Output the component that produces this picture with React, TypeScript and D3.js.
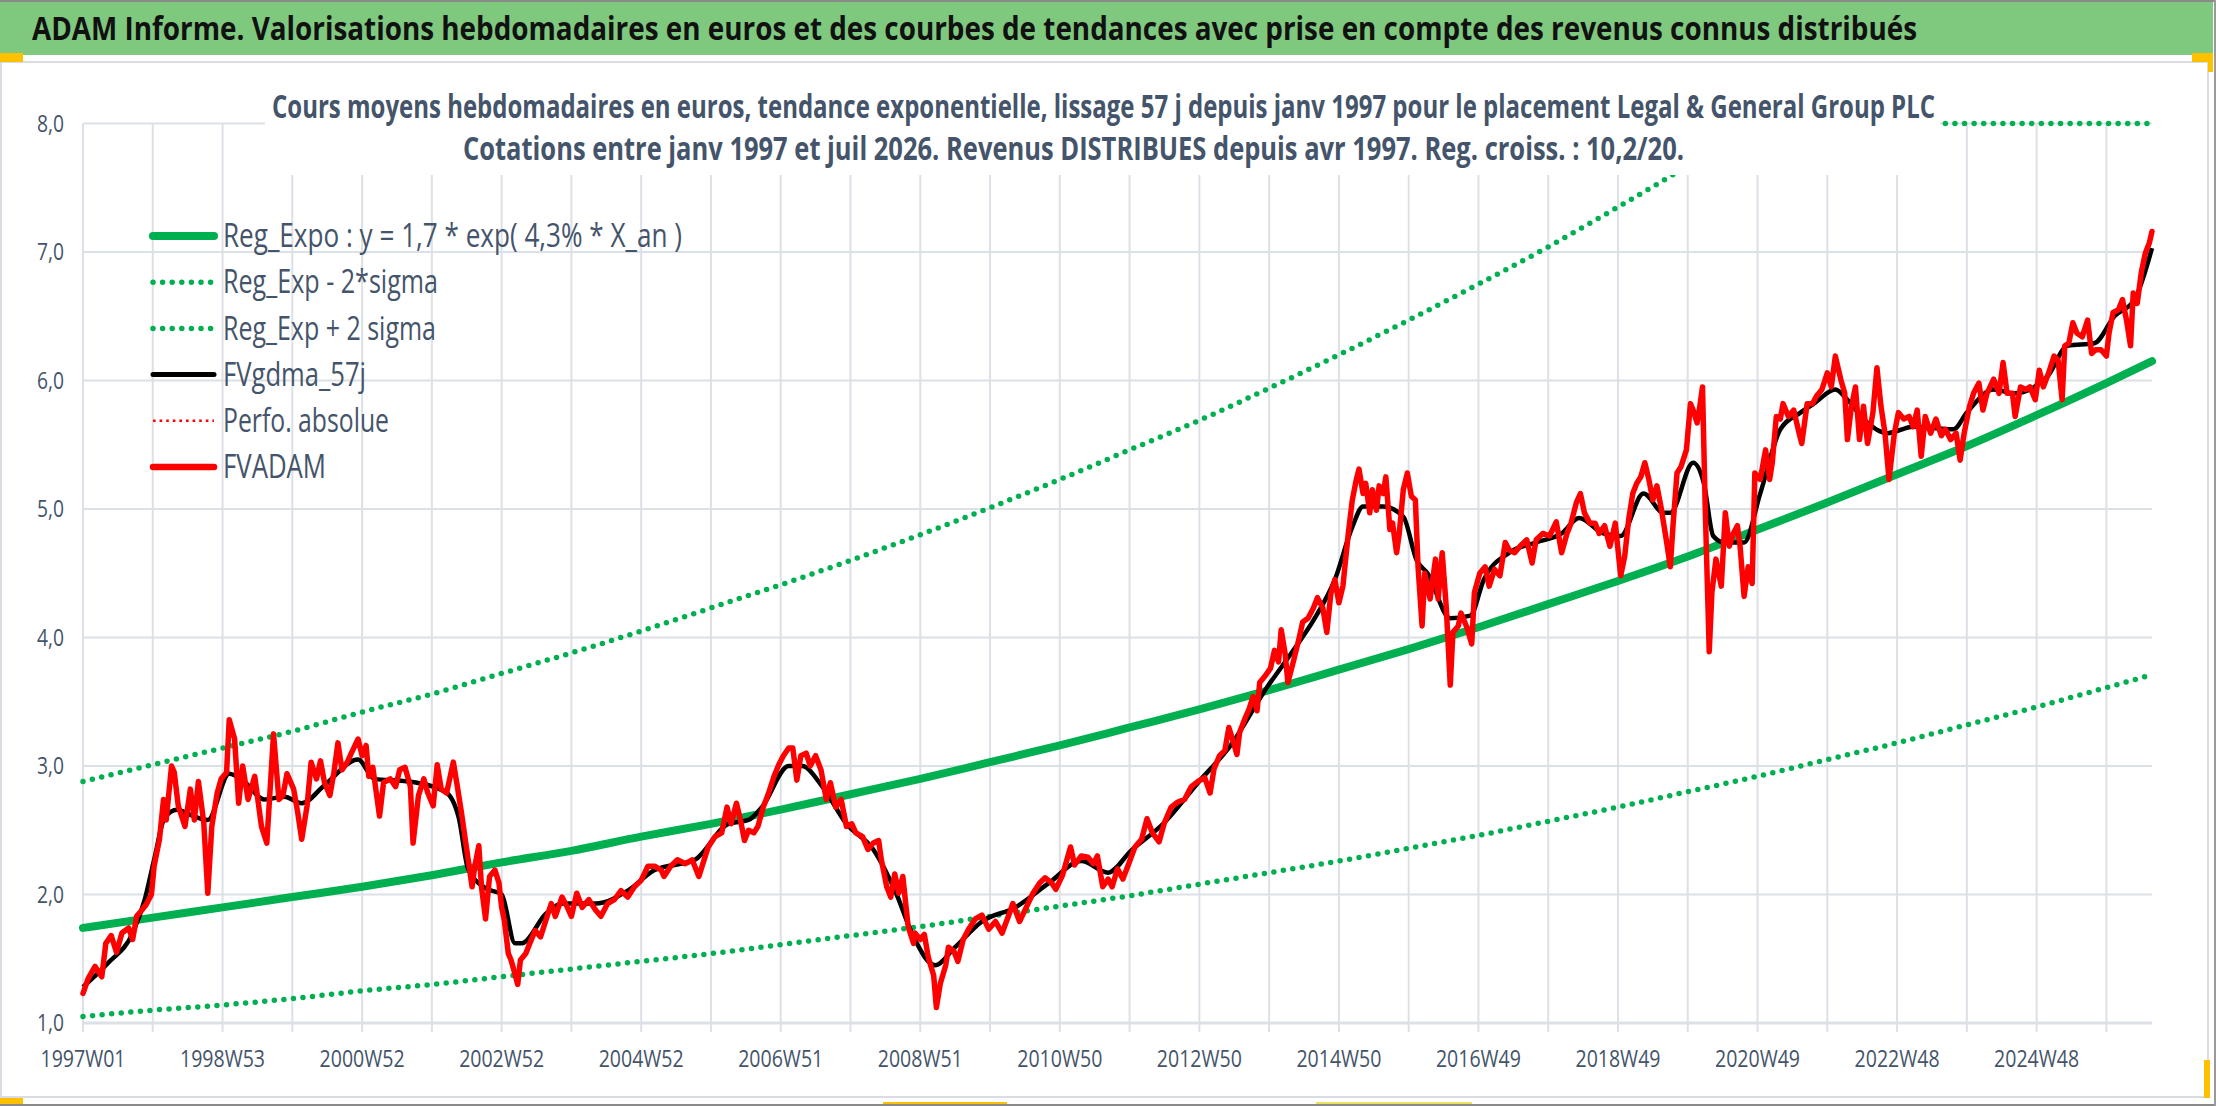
import React, { useEffect, useRef } from 'react';
import * as d3 from 'd3';

// Category axis: weekly quotes, index 0 = 1997W01, last = 1542
const lastWeek = 1542;
const labelStep = 104;
const gridStep = 52;
const weekLabels = [
  '1997W01', '1998W53', '2000W52', '2002W52', '2004W52', '2006W51', '2008W51', '2010W50',
  '2012W50', '2014W50', '2016W49', '2018W49', '2020W49', '2022W48', '2024W48'
];
const yTicks = [1, 2, 3, 4, 5, 6, 7, 8];

// Trend curves read at each year boundary (week index)
const regWeeks = [0, 52, 104, 156, 208, 260, 312, 364, 416, 468, 520, 572, 624, 676, 728, 780, 832, 884, 936, 988,
  1040, 1092, 1144, 1196, 1248, 1300, 1352, 1404, 1456, 1508, 1542];
const regExpo = [1.74, 1.82, 1.90, 1.98, 2.06, 2.15, 2.25, 2.34, 2.45, 2.55, 2.66, 2.78, 2.90, 3.03, 3.16, 3.30,
  3.44, 3.59, 3.75, 3.91, 4.08, 4.26, 4.44, 4.63, 4.84, 5.05, 5.27, 5.49, 5.73, 5.98, 6.15];
const regLow = [1.05, 1.10, 1.14, 1.19, 1.25, 1.30, 1.36, 1.42, 1.48, 1.54, 1.61, 1.68, 1.75, 1.83, 1.91, 1.99,
  2.08, 2.17, 2.26, 2.36, 2.46, 2.57, 2.68, 2.80, 2.92, 3.05, 3.18, 3.32, 3.46, 3.61, 3.71];
const regHigh = [2.88, 3.01, 3.14, 3.27, 3.42, 3.56, 3.72, 3.88, 4.05, 4.23, 4.41, 4.60, 4.80, 5.01, 5.23, 5.46,
  5.69, 5.94, 6.20, 6.47, 6.75, 7.04, 7.35, 7.67, 8.0, 8.0, 8.0, 8.0, 8.0, 8.0, 8.0];

// FVgdma_57j (smoothed), [week, value]
const fvgdma: [number, number][] = [
  [0, 1.28], [19, 1.47], [37, 1.70], [46, 1.96], [53, 2.27], [61, 2.60], [70, 2.66], [80, 2.62], [93, 2.58],
  [109, 2.94], [120, 2.88], [135, 2.74], [150, 2.76], [163, 2.71], [180, 2.85], [205, 3.05], [217, 2.90],
  [242, 2.88], [270, 2.80], [280, 2.60], [287, 2.20], [300, 2.05], [312, 2.00], [322, 1.62], [327, 1.62],
  [345, 1.85], [357, 1.93], [382, 1.93], [406, 2.03], [426, 2.19], [456, 2.27], [481, 2.55], [496, 2.58],
  [506, 2.68], [526, 3.00], [536, 3.00], [551, 2.84], [569, 2.55], [589, 2.35], [606, 2.01], [619, 1.67],
  [635, 1.45], [650, 1.59], [670, 1.79], [695, 1.90], [720, 2.09], [744, 2.26], [764, 2.17], [781, 2.34],
  [806, 2.56], [831, 2.87], [856, 3.17], [881, 3.59], [900, 3.87], [918, 4.15], [933, 4.45], [946, 4.86],
  [954, 5.02], [969, 5.02], [984, 4.94], [994, 4.60], [1002, 4.50], [1019, 4.15], [1034, 4.17], [1044, 4.45],
  [1063, 4.66], [1083, 4.74], [1102, 4.81], [1115, 4.93], [1133, 4.81], [1146, 4.79], [1163, 5.12],
  [1178, 4.97], [1183, 4.97], [1200, 5.36], [1208, 5.20], [1215, 4.79], [1223, 4.74], [1238, 4.74],
  [1250, 5.12], [1265, 5.62], [1280, 5.75], [1290, 5.82], [1306, 5.93], [1315, 5.85], [1327, 5.70],
  [1345, 5.59], [1364, 5.64], [1394, 5.62], [1404, 5.75], [1424, 5.93], [1439, 5.90], [1464, 6.03],
  [1479, 6.27], [1499, 6.29], [1514, 6.50], [1529, 6.63], [1542, 7.03]
];

// FVADAM weekly valuation, [week, value]
const fvadam: [number, number][] = [
  [0, 1.23], [4, 1.35], [9, 1.44], [14, 1.36], [17, 1.62], [21, 1.68], [25, 1.55], [29, 1.70], [34, 1.74],
  [37, 1.65], [40, 1.83], [44, 1.88], [47, 1.92], [51, 2.00], [53, 2.22], [57, 2.43], [60, 2.74], [62, 2.58],
  [66, 3.00], [68, 2.95], [71, 2.69], [76, 2.53], [80, 2.82], [83, 2.58], [86, 2.88], [90, 2.56], [93, 2.01],
  [96, 2.53], [100, 2.79], [103, 2.90], [107, 2.95], [109, 3.36], [113, 3.21], [116, 2.71], [119, 3.00],
  [123, 2.74], [128, 2.92], [133, 2.53], [137, 2.40], [142, 3.25], [146, 2.74], [149, 2.77], [152, 2.94],
  [157, 2.82], [160, 2.64], [163, 2.43], [167, 2.69], [170, 3.03], [174, 2.90], [177, 3.04], [180, 2.87],
  [184, 2.77], [187, 2.95], [190, 3.18], [193, 2.97], [197, 3.03], [200, 3.10], [205, 3.21], [208, 3.08],
  [211, 3.16], [213, 2.92], [216, 2.99], [221, 2.61], [224, 2.87], [229, 2.90], [233, 2.84], [236, 2.97],
  [240, 2.99], [244, 2.84], [246, 2.40], [250, 2.77], [254, 2.90], [257, 2.79], [261, 2.69], [264, 3.01],
  [267, 2.82], [271, 2.79], [276, 3.03], [279, 2.84], [282, 2.64], [286, 2.35], [290, 2.06], [292, 2.22],
  [295, 2.38], [297, 2.06], [300, 1.81], [303, 2.14], [307, 2.19], [310, 2.09], [312, 1.90], [314, 1.80],
  [317, 1.54], [319, 1.49], [322, 1.38], [324, 1.30], [326, 1.49], [330, 1.54], [333, 1.62], [337, 1.72],
  [341, 1.67], [345, 1.80], [349, 1.93], [352, 1.83], [357, 1.98], [361, 1.90], [364, 1.83], [368, 2.01],
  [372, 1.90], [377, 1.96], [382, 1.88], [386, 1.83], [391, 1.93], [396, 1.96], [401, 2.03], [406, 1.98],
  [411, 2.06], [416, 2.11], [421, 2.22], [426, 2.22], [431, 2.19], [433, 2.14], [438, 2.22], [443, 2.27],
  [449, 2.24], [454, 2.27], [459, 2.14], [462, 2.24], [466, 2.37], [471, 2.45], [476, 2.48], [480, 2.68],
  [483, 2.55], [487, 2.71], [490, 2.58], [493, 2.42], [496, 2.50], [500, 2.48], [503, 2.53], [507, 2.68],
  [511, 2.79], [515, 2.92], [519, 3.02], [522, 3.08], [526, 3.14], [529, 3.14], [532, 2.89], [535, 3.08],
  [539, 3.10], [542, 3.00], [546, 3.08], [550, 2.97], [554, 2.74], [557, 2.87], [561, 2.68], [565, 2.74],
  [569, 2.53], [573, 2.55], [576, 2.48], [581, 2.45], [585, 2.35], [589, 2.40], [593, 2.42], [595, 2.27],
  [599, 2.06], [602, 1.98], [605, 2.16], [608, 2.01], [611, 2.14], [615, 1.75], [619, 1.62], [620, 1.70],
  [624, 1.65], [627, 1.69], [630, 1.51], [634, 1.37], [636, 1.12], [639, 1.31], [643, 1.45], [645, 1.59],
  [649, 1.56], [652, 1.48], [656, 1.65], [660, 1.73], [665, 1.81], [670, 1.84], [675, 1.73], [680, 1.79],
  [685, 1.70], [690, 1.84], [693, 1.93], [698, 1.79], [703, 1.90], [708, 2.01], [713, 2.09], [717, 2.13],
  [722, 2.09], [725, 2.04], [730, 2.15], [736, 2.37], [739, 2.23], [744, 2.30], [749, 2.29], [753, 2.24],
  [756, 2.30], [760, 2.06], [764, 2.12], [767, 2.06], [771, 2.20], [775, 2.12], [779, 2.23], [784, 2.37],
  [789, 2.43], [793, 2.59], [797, 2.48], [802, 2.41], [806, 2.56], [811, 2.68], [816, 2.72], [821, 2.74],
  [826, 2.84], [831, 2.88], [836, 2.91], [840, 2.79], [843, 2.98], [847, 3.08], [851, 3.12], [854, 3.30],
  [857, 3.20], [860, 3.09], [862, 3.26], [866, 3.37], [869, 3.44], [872, 3.54], [875, 3.43], [877, 3.65],
  [881, 3.70], [885, 3.76], [888, 3.90], [891, 3.81], [893, 4.06], [896, 3.87], [898, 3.65], [902, 3.81],
  [906, 3.98], [909, 4.12], [913, 4.15], [917, 4.23], [920, 4.31], [924, 4.23], [927, 4.04], [930, 4.34],
  [933, 4.45], [936, 4.27], [939, 4.40], [943, 4.81], [946, 5.07], [949, 5.23], [951, 5.31], [954, 5.12],
  [956, 5.20], [959, 4.97], [961, 5.15], [964, 4.99], [966, 5.18], [969, 5.12], [971, 5.25], [974, 4.84],
  [976, 4.89], [979, 4.66], [981, 4.81], [984, 5.15], [987, 5.28], [990, 5.10], [993, 5.07], [995, 4.55],
  [998, 4.09], [1000, 4.50], [1004, 4.30], [1008, 4.61], [1010, 4.30], [1013, 4.66], [1016, 4.24],
  [1019, 3.63], [1021, 4.04], [1025, 4.09], [1027, 4.19], [1031, 4.09], [1035, 3.95], [1037, 4.35],
  [1041, 4.50], [1045, 4.55], [1048, 4.40], [1052, 4.53], [1056, 4.48], [1060, 4.74], [1063, 4.68],
  [1067, 4.66], [1071, 4.71], [1076, 4.76], [1080, 4.58], [1083, 4.76], [1088, 4.81], [1093, 4.79],
  [1098, 4.90], [1102, 4.66], [1106, 4.81], [1109, 4.89], [1113, 5.05], [1116, 5.12], [1119, 4.97],
  [1123, 4.89], [1127, 4.89], [1130, 4.81], [1134, 4.87], [1138, 4.71], [1142, 4.89], [1146, 4.48],
  [1149, 4.63], [1152, 4.92], [1155, 5.12], [1158, 5.20], [1161, 5.25], [1164, 5.36], [1167, 5.23],
  [1170, 5.07], [1173, 5.18], [1176, 5.02], [1180, 4.76], [1183, 4.55], [1185, 4.87], [1188, 5.28],
  [1191, 5.33], [1195, 5.46], [1198, 5.82], [1200, 5.77], [1203, 5.67], [1205, 5.80], [1207, 5.95],
  [1209, 5.02], [1212, 3.89], [1214, 4.35], [1217, 4.61], [1221, 4.40], [1224, 4.97], [1227, 4.71],
  [1230, 4.81], [1233, 4.87], [1235, 4.71], [1238, 4.32], [1241, 4.55], [1244, 4.42], [1246, 5.28],
  [1250, 5.23], [1254, 5.46], [1257, 5.23], [1259, 5.36], [1262, 5.72], [1265, 5.70], [1267, 5.82],
  [1271, 5.72], [1275, 5.77], [1279, 5.59], [1281, 5.51], [1285, 5.82], [1289, 5.82], [1292, 5.88],
  [1296, 5.93], [1300, 6.06], [1303, 5.95], [1306, 6.19], [1310, 6.01], [1313, 5.90], [1315, 5.54],
  [1318, 5.80], [1321, 5.95], [1324, 5.54], [1327, 5.80], [1330, 5.51], [1334, 5.75], [1337, 6.10],
  [1340, 5.80], [1343, 5.59], [1346, 5.23], [1350, 5.59], [1353, 5.75], [1357, 5.70], [1361, 5.72],
  [1364, 5.64], [1367, 5.77], [1370, 5.41], [1373, 5.72], [1377, 5.59], [1381, 5.70], [1385, 5.57],
  [1388, 5.62], [1392, 5.54], [1396, 5.59], [1399, 5.38], [1402, 5.59], [1406, 5.80], [1409, 5.90],
  [1413, 5.98], [1416, 5.77], [1419, 5.90], [1424, 6.01], [1428, 5.90], [1431, 6.14], [1434, 5.90],
  [1438, 5.90], [1440, 5.72], [1444, 5.95], [1448, 5.93], [1451, 5.95], [1455, 5.85], [1458, 6.08],
  [1461, 5.95], [1465, 6.06], [1469, 6.19], [1472, 6.16], [1475, 5.85], [1477, 6.27], [1480, 6.29],
  [1483, 6.45], [1486, 6.37], [1490, 6.34], [1494, 6.47], [1497, 6.21], [1500, 6.24], [1504, 6.24],
  [1508, 6.19], [1510, 6.37], [1513, 6.53], [1517, 6.55], [1520, 6.63], [1523, 6.47], [1526, 6.27],
  [1528, 6.68], [1531, 6.60], [1534, 6.84], [1537, 6.99], [1540, 7.07], [1542, 7.16]
];

const titleText = 'ADAM Informe. Valorisations hebdomadaires en euros et des courbes de tendances avec prise en compte des revenus connus distribués';
const subtitle1 = 'Cours moyens hebdomadaires en euros, tendance exponentielle, lissage 57 j depuis janv 1997 pour le placement Legal & General Group PLC';
const subtitle2 = 'Cotations entre janv 1997 et juil 2026. Revenus DISTRIBUES depuis avr 1997. Reg. croiss. : 10,2/20.';

const legendItems = [
  { label: 'Reg_Expo : y = 1,7 * exp( 4,3% *  X_an )', color: '#00B050', width: 8, dash: '', cap: 'round', len: 459 },
  { label: 'Reg_Exp - 2*sigma', color: '#00B050', width: 5.5, dash: '0 9.6', cap: 'round', len: 215 },
  { label: 'Reg_Exp + 2 sigma', color: '#00B050', width: 5.5, dash: '0 9.6', cap: 'round', len: 213 },
  { label: 'FVgdma_57j', color: '#000000', width: 5, dash: '', cap: 'round', len: 143 },
  { label: 'Perfo. absolue', color: '#FF0000', width: 2.6, dash: '2.6 4', cap: 'butt', len: 166 },
  { label: 'FVADAM', color: '#FF0000', width: 6.5, dash: '', cap: 'round', len: 103 }
];

const FONT = "'Liberation Sans Narrow', 'Arial Narrow', 'Open Sans', 'Noto Sans', sans-serif";
const TEXT_GREY = '#44546A';
const GRID = '#DCE0E7';

export default function App() {
  const svgRef = useRef<SVGSVGElement>(null);

  useEffect(() => {
    if (!svgRef.current) return;
    const svg = d3.select(svgRef.current);
    svg.selectAll('*').remove();

    const W = 2216;
    const H = 1106;

    const x = d3.scaleLinear().domain([0, lastWeek]).range([83, 2152]);
    const y = d3.scaleLinear().domain([1, 8]).range([1023, 123.5]);

    // frame, title band
    svg.append('rect').attr('width', W).attr('height', H).attr('fill', '#ffffff');
    svg.append('rect').attr('x', 0).attr('y', 0).attr('width', W).attr('height', 2).attr('fill', '#8a8a8a');
    svg.append('rect').attr('x', 0).attr('y', 2).attr('width', 2213).attr('height', 53).attr('fill', '#7FC97F');
    svg.append('text')
      .attr('x', 32).attr('y', 40)
      .attr('textLength', 1885).attr('lengthAdjust', 'spacingAndGlyphs')
      .style('font-family', FONT).style('font-size', '33px').style('font-weight', 'bold')
      .attr('fill', '#111111')
      .text(titleText);

    svg.append('rect')
      .attr('x', 1).attr('y', 62).attr('width', 2207).attr('height', 1035)
      .attr('fill', '#ffffff').attr('stroke', '#D9DCE2').attr('stroke-width', 2);

    const plot = svg.append('g');

    // horizontal gridlines
    plot.selectAll('.hgrid')
      .data(yTicks)
      .join('line')
      .attr('x1', x(0)).attr('x2', x(lastWeek))
      .attr('y1', d => y(d)).attr('y2', d => y(d))
      .attr('stroke', GRID).attr('stroke-width', d => (d === 1 ? 3 : 2));

    // vertical gridlines + ticks
    const gridWeeks = d3.range(0, lastWeek, gridStep);
    plot.selectAll('.vgrid')
      .data(gridWeeks)
      .join('line')
      .attr('x1', d => x(d)).attr('x2', d => x(d))
      .attr('y1', y(8)).attr('y2', y(1) + 9)
      .attr('stroke', GRID).attr('stroke-width', 2);

    const lineGen = d3.line<[number, number]>()
      .x(d => x(d[0]))
      .y(d => y(d[1]));

    const zipReg = (vals: number[]) => regWeeks.map((w, i) => [w, vals[i]] as [number, number]);

    // green trend curves
    plot.append('path')
      .datum(zipReg(regLow))
      .attr('d', lineGen.curve(d3.curveMonotoneX))
      .attr('fill', 'none').attr('stroke', '#00B050').attr('stroke-width', 5.5)
      .attr('stroke-dasharray', '0 9.6').attr('stroke-linecap', 'round');

    plot.append('path')
      .datum(zipReg(regHigh))
      .attr('d', lineGen.curve(d3.curveMonotoneX))
      .attr('fill', 'none').attr('stroke', '#00B050').attr('stroke-width', 5.5)
      .attr('stroke-dasharray', '0 9.6').attr('stroke-linecap', 'round');

    plot.append('path')
      .datum(zipReg(regExpo))
      .attr('d', lineGen.curve(d3.curveMonotoneX))
      .attr('fill', 'none').attr('stroke', '#00B050').attr('stroke-width', 8)
      .attr('stroke-linecap', 'round');

    // smoothed black line
    plot.append('path')
      .datum(fvgdma)
      .attr('d', lineGen.curve(d3.curveMonotoneX))
      .attr('fill', 'none').attr('stroke', '#000000').attr('stroke-width', 4.5)
      .attr('stroke-linejoin', 'round');

    // FVADAM
    plot.append('path')
      .datum(fvadam)
      .attr('d', lineGen.curve(d3.curveLinear))
      .attr('fill', 'none').attr('stroke', '#FF0000').attr('stroke-width', 5.5)
      .attr('stroke-linejoin', 'round').attr('stroke-linecap', 'round');

    // chart title box (covers plot top)
    svg.append('rect')
      .attr('x', 265).attr('y', 66).attr('width', 1675).attr('height', 109)
      .attr('fill', '#ffffff');
    svg.append('text')
      .attr('x', 272).attr('y', 118)
      .attr('textLength', 1663).attr('lengthAdjust', 'spacingAndGlyphs')
      .style('font-family', FONT).style('font-size', '32px').style('font-weight', 'bold')
      .attr('fill', TEXT_GREY)
      .text(subtitle1);
    svg.append('text')
      .attr('x', 463).attr('y', 160)
      .attr('textLength', 1221).attr('lengthAdjust', 'spacingAndGlyphs')
      .style('font-family', FONT).style('font-size', '32px').style('font-weight', 'bold')
      .attr('fill', TEXT_GREY)
      .text(subtitle2);

    // y axis labels
    svg.selectAll('.ylab')
      .data(yTicks)
      .join('text')
      .attr('x', 64).attr('y', d => y(d))
      .attr('dy', '0.35em')
      .attr('text-anchor', 'end')
      .attr('textLength', 27).attr('lengthAdjust', 'spacingAndGlyphs')
      .style('font-family', FONT).style('font-size', '24px')
      .attr('fill', TEXT_GREY)
      .text(d => d3.format('.1f')(d).replace('.', ','));

    // x axis labels
    svg.selectAll('.xlab')
      .data(weekLabels)
      .join('text')
      .attr('x', (d, i) => x(i * labelStep))
      .attr('y', 1067)
      .attr('text-anchor', 'middle')
      .attr('textLength', 85).attr('lengthAdjust', 'spacingAndGlyphs')
      .style('font-family', FONT).style('font-size', '24px')
      .attr('fill', TEXT_GREY)
      .text(d => d);

    // legend
    const legend = svg.append('g');
    const rowY = (i: number) => 236 + i * 46.2;
    legend.selectAll('.lgline')
      .data(legendItems)
      .join('line')
      .attr('x1', 153).attr('x2', 214)
      .attr('y1', (d, i) => rowY(i)).attr('y2', (d, i) => rowY(i))
      .attr('stroke', d => d.color)
      .attr('stroke-width', d => d.width)
      .attr('stroke-dasharray', d => d.dash || null)
      .attr('stroke-linecap', d => d.cap);
    legend.selectAll('.lgtext')
      .data(legendItems)
      .join('text')
      .attr('x', 223).attr('y', (d, i) => rowY(i))
      .attr('dy', '0.35em')
      .attr('textLength', d => d.len).attr('lengthAdjust', 'spacingAndGlyphs')
      .style('font-family', FONT).style('font-size', '32px')
      .attr('fill', TEXT_GREY)
      .text(d => d.label);

    // excel selection handles and window edges
    const marks = [
      { x: 0, y: 53, w: 23, h: 9, c: '#FFC000' },
      { x: 2192, y: 53, w: 21, h: 9, c: '#FFC000' },
      { x: 2208, y: 53, w: 5, h: 19, c: '#FFC000' },
      { x: 2204, y: 1060, w: 6, h: 38, c: '#FFC000' },
      { x: 0, y: 1098, w: 23, h: 6, c: '#FFC000' },
      { x: 883, y: 1102, w: 124, h: 3, c: '#FFC000' },
      { x: 1316, y: 1102, w: 156, h: 3, c: '#E8E060' },
      { x: 0, y: 1104, w: W, h: 2, c: '#8a8a8a' },
      { x: 2214, y: 0, w: 2, h: H, c: '#9a9a9a' }
    ];
    svg.selectAll('.mark')
      .data(marks)
      .join('rect')
      .attr('x', d => d.x).attr('y', d => d.y)
      .attr('width', d => d.w).attr('height', d => d.h)
      .attr('fill', d => d.c);
  }, []);

  return (
    <svg
      ref={svgRef}
      width={2216}
      height={1106}
      style={{ position: 'absolute', left: 0, top: 0, display: 'block' }}
    />
  );
}
